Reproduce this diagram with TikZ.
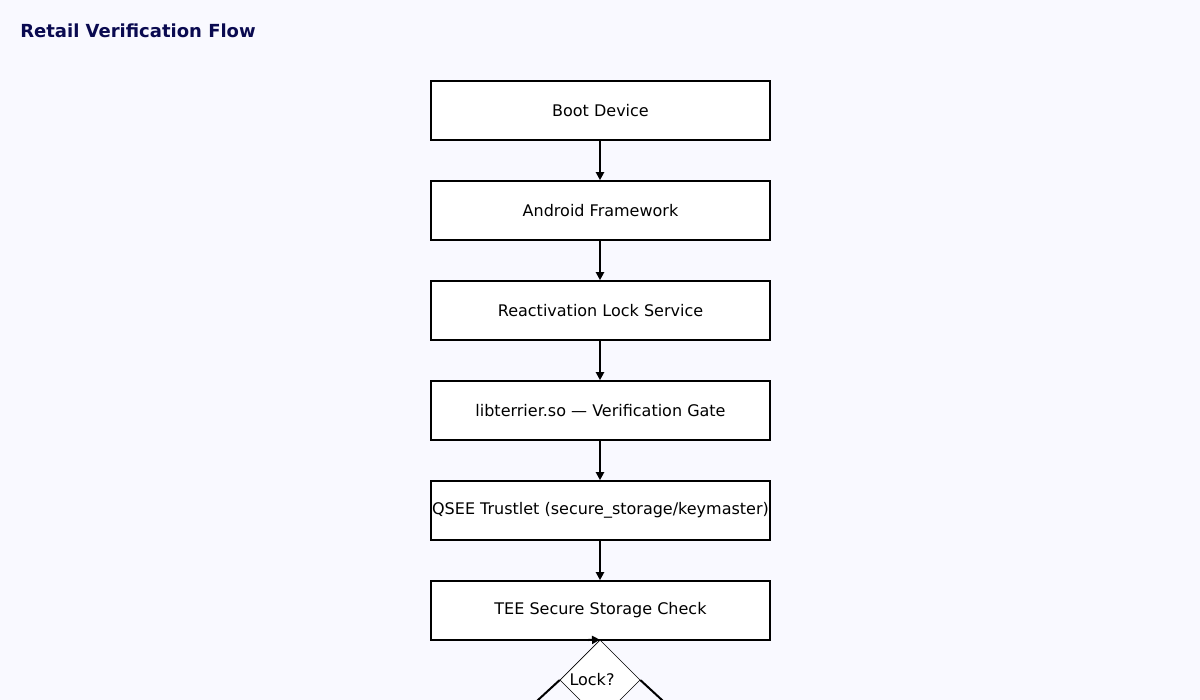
\documentclass[tikz,border=0pt]{standalone}
\usepackage{fontspec}
\setmainfont{DejaVu Sans}
\usetikzlibrary{shapes.geometric,arrows.meta}
\definecolor{bgc}{RGB}{249,249,255}
\definecolor{titlec}{RGB}{10,10,80}
\tikzset{
  stepbox/.style={draw=black, fill=white, line width=1.2pt, minimum width=254.25pt, minimum height=44.25pt, inner sep=0pt, font=\fontsize{12pt}{14pt}\selectfont},
  flowarrow/.style={line width=1.5pt, -{Triangle[length=6pt,width=6pt]}},
  decision/.style={draw=black, fill=white, line width=0.4pt, diamond, minimum width=60pt, minimum height=60pt, inner sep=0pt},
  branch/.style={line width=1.5pt}
}
\begin{document}
\begin{tikzpicture}[x=0.75pt,y=-0.75pt]
\fill[bgc] (0,0) rectangle (1200,700);
\useasboundingbox (0,0) rectangle (1200,700);
\clip (0,0) rectangle (1200,700);
\node[anchor=west, inner sep=0pt, text=titlec, font=\bfseries\fontsize{13.5pt}{16pt}\selectfont] (title) at (20,31) {Retail Verification Flow};
\node[stepbox] (boot) at (600.5,110.5) {Boot Device};
\node[stepbox] (android) at (600.5,210.5) {Android Framework};
\node[stepbox] (react) at (600.5,310.5) {Reactivation Lock Service};
\node[stepbox] (lib) at (600.5,410.5) {libterrier.so — Verification Gate};
\node[stepbox] (qsee) at (600.5,510.5) {QSEE Trustlet (secure\_storage/keymaster)};
\node[stepbox] (tee) at (600.5,610.5) {TEE Secure Storage Check};
\node[decision, label={[xshift=-6pt, font=\fontsize{12pt}{14pt}\selectfont]center:Lock?}] (lock) at (600,680) {};
\draw[flowarrow] (boot.south -| lock.center) -- (android.north -| lock.center);
\draw[flowarrow] (android.south -| lock.center) -- (react.north -| lock.center);
\draw[flowarrow] (react.south -| lock.center) -- (lib.north -| lock.center);
\draw[flowarrow] (lib.south -| lock.center) -- (qsee.north -| lock.center);
\draw[flowarrow] (qsee.south -| lock.center) -- (tee.north -| lock.center);
\coordinate (tin) at (588,640);
\draw[flowarrow] (tin) -- (lock.north);
\coordinate (yesend) at (500,735);
\coordinate (noend) at (700,735);
\draw[branch] (lock.west) -- (yesend);
\draw[branch] (lock.east) -- (noend);
\end{tikzpicture}
\end{document}
